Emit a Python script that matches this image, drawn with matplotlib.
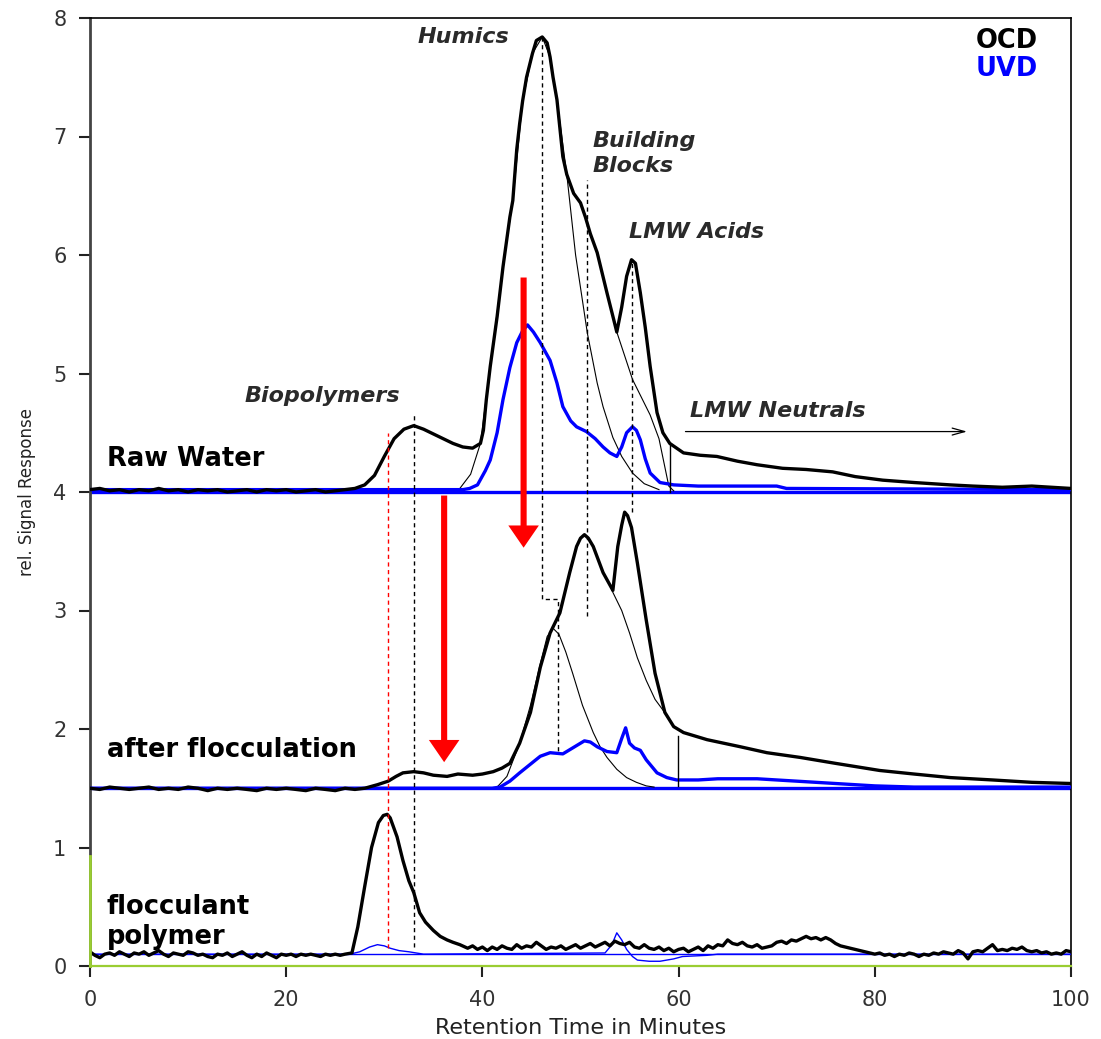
import matplotlib
matplotlib.use("Agg")
import matplotlib.pyplot as plt
from matplotlib.patches import ArrowStyle

# ---------------- data ----------------
# Raw water, OCD (organic carbon detector)
raw_ocd_t = [0, 1, 2, 3, 4, 5, 6, 7, 8, 9, 10, 11, 12, 13, 14, 15, 16, 17, 18, 19,
             20, 21, 22, 23, 24, 25, 26, 27, 28, 29, 30, 31, 32, 33, 34, 35, 36, 37,
             38, 39, 39.8, 40.1, 40.4, 40.8, 41.5, 42.1, 42.8, 43.1, 43.5, 43.8, 44.1,
             44.5, 45.1, 45.5, 46.1, 46.6, 46.9, 47.2, 47.6, 48.2, 48.6, 49.3, 50.0,
             50.5, 51.0, 51.7, 52.7, 53.4, 53.7, 54.2, 54.7, 55.2, 55.6, 56.1, 56.6,
             57.1, 57.8, 58.4, 59.1, 60.5, 62.2, 63.9, 66, 68, 70.6, 73, 75.7, 78,
             80.8, 84, 87.7, 90, 93, 96, 100]
raw_ocd = [4.02, 4.03, 4.01, 4.02, 4.00, 4.02, 4.01, 4.03, 4.01, 4.02, 4.00, 4.02,
           4.01, 4.02, 4.00, 4.01, 4.02, 4.00, 4.02, 4.01, 4.02, 4.00, 4.01, 4.02,
           4.00, 4.01, 4.02, 4.03, 4.06, 4.14, 4.30, 4.45, 4.53, 4.56, 4.53, 4.49,
           4.45, 4.41, 4.38, 4.37, 4.41, 4.52, 4.78, 5.06, 5.48, 5.90, 6.32, 6.46,
           6.89, 7.11, 7.30, 7.50, 7.70, 7.81, 7.84, 7.79, 7.67, 7.50, 7.31, 6.83,
           6.68, 6.52, 6.44, 6.32, 6.18, 6.02, 5.68, 5.45, 5.35, 5.56, 5.82, 5.96,
           5.93, 5.68, 5.39, 5.06, 4.67, 4.50, 4.41, 4.33, 4.31, 4.30, 4.26, 4.23,
           4.20, 4.19, 4.17, 4.13, 4.10, 4.08, 4.06, 4.05, 4.04, 4.05, 4.03]

# Raw water, UVD (UV detector)
raw_uvd_t = [0, 38, 38.7, 39.5, 40.3, 40.8, 41.5, 42.1, 42.8, 43.5, 44.1, 44.6, 45.2,
             45.9, 46.9, 47.6, 48.2, 49.0, 49.6, 50.6, 51.5, 52.3, 53.0, 53.7, 54.2,
             54.7, 55.3, 55.7, 56.1, 56.6, 57.1, 58.1, 59.5, 62, 70, 71, 100]
raw_uvd = [4.02, 4.02, 4.03, 4.06, 4.18, 4.27, 4.50, 4.78, 5.05, 5.26, 5.36, 5.41,
           5.35, 5.26, 5.11, 4.92, 4.72, 4.60, 4.55, 4.51, 4.45, 4.38, 4.33, 4.30,
           4.38, 4.50, 4.55, 4.52, 4.44, 4.28, 4.16, 4.08, 4.06, 4.05, 4.05, 4.03,
           4.02]

# Raw water, fitted fractions (thin lines)
raw_hum_t = [37.7, 38.8, 39.8, 40.8, 42.1, 43.1, 44.1, 45.1, 46.1, 46.9, 47.6, 48.6,
             49.5, 50.7, 51.7, 52.3, 53.3, 54.2, 55.3, 56.5, 58.0]
raw_hum = [4.03, 4.15, 4.41, 5.06, 5.90, 6.46, 7.30, 7.70, 7.84, 7.67, 7.31, 6.68,
           6.00, 5.34, 4.92, 4.72, 4.46, 4.30, 4.16, 4.07, 4.02]
raw_bb_t = [53.7, 55.3, 57.1, 58.0, 58.5, 59.0, 59.5]
raw_bb = [5.35, 4.95, 4.65, 4.45, 4.25, 4.05, 4.01]

# After flocculation, OCD
floc_ocd_t = [0, 1, 2, 3, 4, 5, 6, 7, 8, 9, 10, 11, 12, 13, 14, 15, 16, 17, 18, 19,
              20, 21, 22, 23, 24, 25, 26, 27, 28, 29.3, 30.4, 31.2, 31.9, 33, 34, 35,
              36.4, 37.5, 39, 40, 41.1, 42, 42.8, 43.8, 44.9, 45.9, 46.9, 47.9, 48.9,
              49.6, 50.0, 50.4, 50.8, 51.3, 52.3, 53.3, 53.8, 54.2, 54.5, 54.8, 55.2,
              55.8, 56.7, 57.6, 58.6, 59.5, 60.5, 62.9, 66.3, 69, 72.4, 76, 80.5, 84,
              87.7, 92, 96, 100]
floc_ocd = [1.50, 1.49, 1.51, 1.50, 1.49, 1.50, 1.51, 1.49, 1.50, 1.49, 1.51, 1.50,
            1.48, 1.50, 1.49, 1.50, 1.49, 1.48, 1.50, 1.49, 1.50, 1.49, 1.48, 1.50,
            1.49, 1.48, 1.50, 1.49, 1.50, 1.53, 1.56, 1.60, 1.63, 1.64, 1.63, 1.61,
            1.60, 1.62, 1.61, 1.62, 1.64, 1.67, 1.71, 1.88, 2.14, 2.52, 2.81, 2.98,
            3.32, 3.54, 3.61, 3.64, 3.61, 3.54, 3.32, 3.17, 3.54, 3.72, 3.83, 3.80,
            3.70, 3.40, 2.92, 2.47, 2.14, 2.02, 1.97, 1.91, 1.85, 1.80, 1.76, 1.71,
            1.65, 1.62, 1.59, 1.57, 1.55, 1.54]

# After flocculation, UVD
floc_uvd_t = [0, 41, 41.8, 42.8, 43.8, 45.0, 45.9, 46.9, 48.2, 49.2, 50.4, 51.0, 51.7,
              52.7, 53.7, 54.2, 54.6, 55.0, 55.5, 56.1, 56.7, 57.8, 58.8, 59.8, 62, 64,
              68, 72, 76, 80, 84, 100]
floc_uvd = [1.50, 1.50, 1.51, 1.56, 1.63, 1.71, 1.77, 1.80, 1.79, 1.84, 1.90, 1.89,
            1.85, 1.81, 1.80, 1.92, 2.01, 1.88, 1.84, 1.82, 1.74, 1.63, 1.59, 1.57,
            1.57, 1.58, 1.58, 1.56, 1.54, 1.52, 1.51, 1.51]

# After flocculation, fitted fractions (thin lines)
floc_hum_t = [41.5, 42.5, 43.8, 44.9, 45.9, 46.6, 47.2, 47.8, 48.5, 49.2, 50.2, 51.3,
              52.0, 52.7, 53.7, 54.7, 55.7, 56.7, 57.5]
floc_hum = [1.51, 1.60, 1.88, 2.20, 2.55, 2.78, 2.85, 2.80, 2.65, 2.47, 2.20, 1.97,
            1.85, 1.76, 1.66, 1.59, 1.55, 1.52, 1.51]
floc_bb_t = [53.2, 54.2, 55.0, 55.8, 56.7, 57.6, 58.4, 59.0]
floc_bb = [3.17, 3.00, 2.81, 2.60, 2.41, 2.25, 2.16, 2.08]

# Flocculant polymer, OCD
poly_ocd_t = [0, 0.5, 1, 1.5, 2, 2.5, 3, 3.5, 4, 4.5, 5, 5.5, 6, 6.5, 7, 7.5, 8, 8.5,
              9, 9.5, 10, 10.5, 11, 11.5, 12, 12.5, 13, 13.5, 14, 14.5, 15, 15.5, 16,
              16.5, 17, 17.5, 18, 18.5, 19, 19.5, 20, 20.5, 21, 21.5, 22, 22.5, 23,
              23.5, 24, 24.5, 25, 25.5, 26, 26.7, 27.3, 28.0, 28.7, 29.4, 29.9, 30.3,
              30.6, 31.3, 31.9, 32.5, 33.0, 33.6, 34.2, 35.0, 35.7, 36.4, 37.0, 37.7,
              38.5, 39, 39.5, 40, 40.5, 41, 41.5, 42, 42.5, 43, 43.5, 44, 44.5, 45,
              45.5, 46, 46.5, 47, 47.5, 48, 48.5, 49, 49.5, 50, 50.5, 51, 51.5, 52,
              52.5, 53, 53.5, 54, 54.5, 55, 55.5, 56, 56.5, 57, 57.5, 58, 58.5, 59,
              59.5, 60, 60.5, 61, 61.5, 62, 62.5, 63, 63.5, 64, 64.5, 65, 65.5, 66,
              66.5, 67, 67.5, 68, 68.5, 69, 69.5, 70, 70.5, 71, 71.5, 72, 72.5, 73,
              73.5, 74, 74.5, 75, 75.5, 76, 76.5, 77, 77.5, 78, 78.5, 79, 79.5, 80,
              80.5, 81, 81.5, 82, 82.5, 83, 83.5, 84, 84.5, 85, 85.5, 86, 86.5, 87,
              87.5, 88, 88.5, 89, 89.5, 90, 90.5, 91, 91.5, 92, 92.5, 93, 93.5, 94,
              94.5, 95, 95.5, 96, 96.5, 97, 97.5, 98, 98.5, 99, 99.5, 100]
poly_ocd = [0.12, 0.09, 0.07, 0.10, 0.11, 0.09, 0.12, 0.10, 0.08, 0.11, 0.10, 0.12,
            0.09, 0.11, 0.13, 0.10, 0.08, 0.11, 0.10, 0.09, 0.12, 0.11, 0.09, 0.10,
            0.08, 0.07, 0.10, 0.09, 0.11, 0.08, 0.10, 0.12, 0.09, 0.07, 0.10, 0.08,
            0.11, 0.09, 0.07, 0.10, 0.09, 0.10, 0.08, 0.10, 0.09, 0.10, 0.09, 0.08,
            0.10, 0.09, 0.10, 0.09, 0.10, 0.11, 0.33, 0.67, 1.00, 1.21, 1.27, 1.28,
            1.25, 1.09, 0.89, 0.72, 0.62, 0.45, 0.37, 0.30, 0.25, 0.22, 0.20, 0.18,
            0.15, 0.17, 0.14, 0.16, 0.13, 0.16, 0.14, 0.17, 0.15, 0.14, 0.18, 0.15,
            0.17, 0.16, 0.20, 0.17, 0.14, 0.16, 0.15, 0.17, 0.14, 0.16, 0.18, 0.15,
            0.17, 0.19, 0.16, 0.18, 0.20, 0.17, 0.21, 0.19, 0.18, 0.20, 0.16, 0.15,
            0.18, 0.15, 0.14, 0.16, 0.13, 0.15, 0.12, 0.14, 0.15, 0.12, 0.14, 0.16,
            0.13, 0.17, 0.15, 0.18, 0.17, 0.22, 0.19, 0.18, 0.20, 0.17, 0.16, 0.18,
            0.15, 0.16, 0.17, 0.20, 0.21, 0.19, 0.22, 0.21, 0.23, 0.25, 0.23, 0.24,
            0.22, 0.24, 0.22, 0.19, 0.17, 0.16, 0.15, 0.14, 0.13, 0.12, 0.11, 0.10,
            0.11, 0.09, 0.10, 0.08, 0.10, 0.09, 0.11, 0.10, 0.08, 0.10, 0.09, 0.11,
            0.10, 0.12, 0.11, 0.10, 0.13, 0.11, 0.06, 0.12, 0.13, 0.12, 0.15, 0.18,
            0.13, 0.14, 0.13, 0.15, 0.14, 0.16, 0.13, 0.12, 0.13, 0.11, 0.12, 0.10,
            0.11, 0.10, 0.13, 0.12]

# Flocculant polymer, UVD
poly_uvd_t = [0, 26.5, 27.5, 28.5, 29.3, 30, 30.6, 31.5, 32.5, 34, 52.5, 53.2, 53.7,
              54.2, 54.7, 55.3, 55.8, 57, 58.1, 59.5, 60.4, 62.9, 64, 100]
poly_uvd = [0.10, 0.10, 0.12, 0.16, 0.18, 0.17, 0.15, 0.13, 0.12, 0.10, 0.11, 0.18,
            0.28, 0.22, 0.14, 0.08, 0.05, 0.04, 0.04, 0.06, 0.08, 0.09, 0.10, 0.10]

# Zero lines of the three stacked chromatograms
baselines = [4.0, 1.5, 0.1]

# Fraction markers: (time, lower y, upper y)
black_dash_marks = [(33.0, 0.16, 4.65), (50.7, 2.95, 6.63), (55.3, 3.83, 5.97)]
red_dash_mark = (30.4, 0.15, 4.5)
humic_step = ([46.1, 46.1, 47.7, 47.7], [7.84, 3.10, 3.10, 1.80])
cut_marks = [(59.1, 4.0, 4.41), (59.9, 1.52, 1.94)]

# Red arrows: (time, from y, to y)
red_arrows = [(44.2, 5.81, 3.53), (36.1, 3.97, 1.72)]

x_ticks = [0, 20, 40, 60, 80, 100]
y_ticks = [0, 1, 2, 3, 4, 5, 6, 7, 8]

# ---------------- figure ----------------
fig = plt.figure(figsize=(11.01, 10.39), dpi=100)
ax = fig.add_axes([90 / 1101, 73 / 1039, 981 / 1101, 948 / 1039])
ax.set_xlim(0, 100)
ax.set_ylim(0, 8)

BLUE = "#0000ff"
RED = "#ff0000"

# blue zero lines
for i, b in enumerate(baselines):
    ax.plot([0, 100], [b, b], color=BLUE, lw=2.4 if i < 2 else 1.0, zorder=2)

# fitted fraction outlines
for t, y in [(raw_hum_t, raw_hum), (raw_bb_t, raw_bb),
             (floc_hum_t, floc_hum), (floc_bb_t, floc_bb)]:
    ax.plot(t, y, color="black", lw=0.8, zorder=3)

# UVD traces
ax.plot(raw_uvd_t, raw_uvd, color=BLUE, lw=2.4, zorder=4)
ax.plot(floc_uvd_t, floc_uvd, color=BLUE, lw=2.4, zorder=4)
ax.plot(poly_uvd_t, poly_uvd, color=BLUE, lw=1.0, zorder=4)

# OCD traces
for t, y in [(raw_ocd_t, raw_ocd), (floc_ocd_t, floc_ocd), (poly_ocd_t, poly_ocd)]:
    ax.plot(t, y, color="black", lw=2.4, zorder=5)

# dashed fraction markers
for t, y0, y1 in black_dash_marks:
    ax.plot([t, t], [y0, y1], color="black", lw=1.0, ls=(0, (3, 2.5)), zorder=6)
ax.plot(humic_step[0], humic_step[1], color="black", lw=1.0, ls=(0, (3, 2.5)), zorder=6)
t, y0, y1 = red_dash_mark
ax.plot([t, t], [y0, y1], color=RED, lw=1.0, ls=(0, (3, 2.5)), zorder=6)
for t, y0, y1 in cut_marks:
    ax.plot([t, t], [y0, y1], color="black", lw=1.0, zorder=6)

# red arrows
for t, y0, y1 in red_arrows:
    ax.annotate("", xy=(t, y1), xytext=(t, y0),
                arrowprops=dict(arrowstyle=ArrowStyle.Simple(head_length=16, head_width=22,
                                                             tail_width=4.4),
                                mutation_scale=1, color=RED, lw=0,
                                shrinkA=0, shrinkB=0), zorder=7)

# LMW neutrals arrow
ax.annotate("", xy=(89.4, 4.51), xytext=(60.7, 4.51),
            arrowprops=dict(arrowstyle="->,head_length=0.9,head_width=0.25", color="black",
                            lw=0.9, shrinkA=0, shrinkB=0), zorder=7)

# fraction names
frac_kw = dict(fontsize=16, fontweight="bold", fontstyle="italic", color="#2a2a2a",
               va="center", ha="left")
ax.text(33.4, 7.84, "Humics", **frac_kw)
ax.text(51.2, 6.96, "Building", **frac_kw)
ax.text(51.2, 6.75, "Blocks", **frac_kw)
ax.text(54.9, 6.19, "LMW Acids", **frac_kw)
ax.text(15.8, 4.81, "Biopolymers", **frac_kw)
ax.text(61.2, 4.68, "LMW Neutrals", **frac_kw)

# sample names and detector legend
lab_kw = dict(fontsize=18.5, fontweight="bold", color="black", va="center", ha="left")
ax.text(1.7, 4.28, "Raw Water", **lab_kw)
ax.text(1.7, 1.82, "after flocculation", **lab_kw)
ax.text(1.7, 0.50, "flocculant", **lab_kw)
ax.text(1.7, 0.245, "polymer", **lab_kw)
ax.text(90.3, 7.81, "OCD", **lab_kw)
ax.text(90.3, 7.57, "UVD", **{**lab_kw, "color": BLUE})

# axes styling
ax.set_xticks(x_ticks)
ax.set_yticks(y_ticks)
ax.tick_params(direction="out", length=8, width=1.5, labelsize=15, labelcolor="#333333",
               color="#222222")
ax.tick_params(axis="x", pad=9)
ax.tick_params(axis="y", pad=9)
for side in ("top", "right"):
    ax.spines[side].set_color("black")
    ax.spines[side].set_linewidth(1.2)
ax.spines["left"].set_color("#444444")
ax.spines["left"].set_linewidth(2.0)
ax.spines["bottom"].set_color("#9acd32")
ax.spines["bottom"].set_linewidth(1.6)
ax.plot([0, 0], [0, 0.93], color="#9acd32", lw=2.0, clip_on=False, zorder=10)

ax.set_xlabel("Retention Time in Minutes", fontsize=16, color="#222222", labelpad=6)
ax.set_ylabel("rel. Signal Response", fontsize=12, color="#222222", labelpad=12)

fig.savefig("out.png", dpi=100, facecolor="white")
